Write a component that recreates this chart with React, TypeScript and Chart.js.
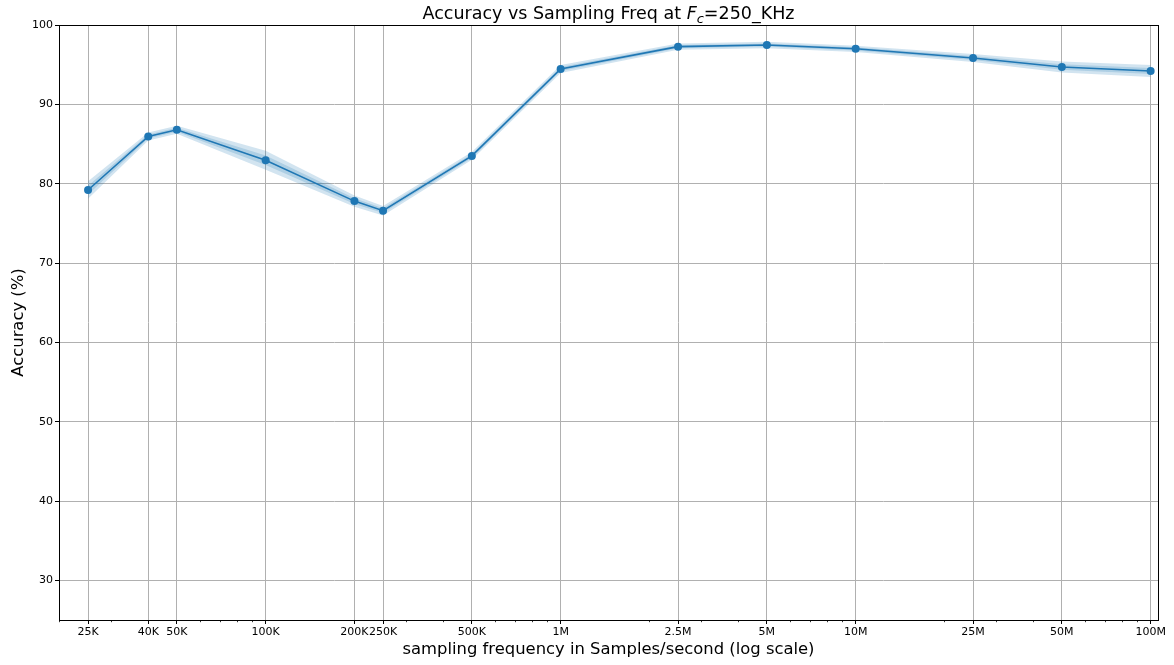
import React, { useEffect, useRef } from 'react';
import { Chart, registerables } from 'chart.js';

Chart.register(...registerables);

// Sampling frequencies (samples/second) and their axis labels
const freqs = [25e3, 40e3, 50e3, 1e5, 2e5, 2.5e5, 5e5, 1e6, 2.5e6, 5e6, 1e7, 2.5e7, 5e7, 1e8];
const tickLabels = ['25K', '40K', '50K', '100K', '200K', '250K', '500K', '1M', '2.5M', '5M', '10M', '25M', '50M', '100M'];

// Mean accuracy (%) per sampling frequency
const accuracy = [79.2, 85.95, 86.8, 82.95, 77.8, 76.6, 83.5, 94.45, 97.27, 97.48, 97.0, 95.85, 94.7, 94.2];

// Outer uncertainty band
const outerHigh = [80.3, 86.45, 87.3, 84.15, 78.5, 77.2, 84.0, 94.95, 97.67, 97.88, 97.4, 96.35, 95.4, 94.95];
const outerLow = [78.1, 85.45, 86.3, 81.75, 77.1, 76.0, 83.0, 93.95, 96.87, 97.08, 96.6, 95.35, 94.0, 93.45];

// Inner uncertainty band
const innerHigh = [79.75, 86.2, 87.05, 83.55, 78.15, 76.9, 83.75, 94.7, 97.47, 97.68, 97.2, 96.1, 95.05, 94.58];
const innerLow = [78.65, 85.7, 86.55, 82.35, 77.45, 76.3, 83.25, 94.2, 97.07, 97.28, 96.8, 95.6, 94.35, 93.82];

// Unlabelled log-scale minor ticks
const minorTicks = [
  2e4, 3e4, 6e4, 7e4, 8e4, 9e4,
  3e5, 4e5, 6e5, 7e5, 8e5, 9e5,
  2e6, 3e6, 4e6, 6e6, 7e6, 8e6, 9e6,
  2e7, 3e7, 4e7, 6e7, 7e7, 8e7, 9e7,
];

const yTicks = [30, 40, 50, 60, 70, 80, 90, 100];

const BLUE = '#1f77b4';
const BAND = 'rgba(31,119,180,0.2)';
const FONT = '"DejaVu Sans", sans-serif';

const toPoints = (ys: number[]) => freqs.map((f, i) => ({ x: f, y: ys[i] }));

const framePlugin = {
  id: 'frameAndMinorTicks',
  afterDraw(chart: any) {
    const { ctx, chartArea } = chart;
    const { left, right, top, bottom } = chartArea;
    const xs = chart.scales.x;
    ctx.save();
    // minor ticks
    ctx.strokeStyle = '#000';
    ctx.lineWidth = 0.8;
    ctx.beginPath();
    for (const v of minorTicks) {
      const px = Math.round(xs.getPixelForValue(v)) + 0.5;
      if (px < left - 1 || px > right + 1) continue;
      ctx.moveTo(px, bottom);
      ctx.lineTo(px, bottom + 2.2);
    }
    ctx.stroke();
    // spines
    ctx.strokeStyle = '#000';
    ctx.lineWidth = 1;
    ctx.strokeRect(Math.round(left) + 0.5, Math.round(top) + 0.5, Math.round(right - left), Math.round(bottom - top));
    ctx.restore();
  },
};

const titlePlugin = {
  id: 'mathTitle',
  afterDraw(chart: any) {
    const { ctx, chartArea } = chart;
    const size = 17.5;
    const parts = [
      { t: 'Accuracy vs Sampling Freq at ', font: `${size}px ${FONT}`, dy: 0 },
      { t: 'F', font: `italic ${size}px ${FONT}`, dy: 0 },
      { t: 'c', font: `italic ${Math.round(size * 0.72)}px ${FONT}`, dy: 3.5 },
      { t: '=250_KHz', font: `${size}px ${FONT}`, dy: 0 },
    ];
    ctx.save();
    let total = 0;
    const widths = parts.map((p) => {
      ctx.font = p.font;
      const w = ctx.measureText(p.t).width;
      total += w;
      return w;
    });
    let x = (chartArea.left + chartArea.right) / 2 - total / 2;
    const baseline = 19;
    ctx.fillStyle = '#000';
    ctx.textBaseline = 'alphabetic';
    ctx.textAlign = 'left';
    parts.forEach((p, i) => {
      ctx.font = p.font;
      ctx.fillText(p.t, x, baseline + p.dy);
      x += widths[i];
    });
    ctx.restore();
  },
};

export default function App() {
  const canvasRef = useRef<HTMLCanvasElement | null>(null);

  useEffect(() => {
    document.body.style.margin = '0';
    const canvas = canvasRef.current;
    if (!canvas) return;

    const chart = new Chart(canvas, {
      type: 'line',
      data: {
        datasets: [
          {
            label: 'accuracy',
            data: toPoints(accuracy),
            borderColor: BLUE,
            backgroundColor: BLUE,
            borderWidth: 1.6,
            pointRadius: 4,
            pointBorderWidth: 0,
            pointBackgroundColor: BLUE,
            fill: false,
            order: 0,
          },
          {
            label: 'outerHigh',
            data: toPoints(outerHigh),
            borderWidth: 0,
            pointRadius: 0,
            fill: false,
            order: 4,
          },
          {
            label: 'outerLow',
            data: toPoints(outerLow),
            borderWidth: 0,
            pointRadius: 0,
            backgroundColor: BAND,
            fill: '-1',
            order: 3,
          },
          {
            label: 'innerHigh',
            data: toPoints(innerHigh),
            borderWidth: 0,
            pointRadius: 0,
            fill: false,
            order: 2,
          },
          {
            label: 'innerLow',
            data: toPoints(innerLow),
            borderWidth: 0,
            pointRadius: 0,
            backgroundColor: BAND,
            fill: '-1',
            order: 1,
          },
        ],
      },
      options: {
        responsive: false,
        animation: false,
        devicePixelRatio: 1,
        layout: { padding: { left: 0, top: 25, right: 16, bottom: 0 } },
        plugins: {
          legend: { display: false },
          tooltip: { enabled: false },
          title: { display: false },
        },
        scales: {
          x: {
            type: 'logarithmic',
            min: 19930,
            max: 1.059e8,
            afterBuildTicks: (scale: any) => {
              scale.ticks = freqs.map((v) => ({ value: v }));
            },
            afterFit: (scale: any) => {
              scale.height = 45;
            },
            ticks: {
              autoSkip: false,
              maxRotation: 0,
              minRotation: 0,
              padding: 2,
              color: '#000',
              font: { family: FONT, size: 11 },
              callback: (_v: any, i: number) => tickLabels[i],
            },
            grid: {
              color: '#b0b0b0',
              lineWidth: 1,
              tickColor: '#000',
              tickLength: 4,
            },
            border: { display: true, color: '#000', width: 1 },
            title: {
              display: true,
              text: 'sampling frequency in Samples/second (log scale)',
              color: '#000',
              font: { family: FONT, size: 16.4 },
              padding: { top: 0, bottom: 5 },
            },
          },
          y: {
            type: 'linear',
            min: 25,
            max: 100,
            afterBuildTicks: (scale: any) => {
              scale.ticks = yTicks.map((v) => ({ value: v }));
            },
            afterFit: (scale: any) => {
              scale.width = 59;
            },
            ticks: {
              padding: 2,
              color: '#000',
              font: { family: FONT, size: 11 },
            },
            grid: {
              color: '#b0b0b0',
              lineWidth: 1,
              tickColor: '#000',
              tickLength: 4,
            },
            border: { display: true, color: '#000', width: 1 },
            title: {
              display: true,
              text: 'Accuracy (%)',
              color: '#000',
              font: { family: FONT, size: 16.4 },
              padding: { top: 9, bottom: 0 },
            },
          },
        },
      } as any,
      plugins: [framePlugin, titlePlugin],
    });

    return () => chart.destroy();
  }, []);

  return (
    <div style={{ position: 'absolute', left: 0, top: 0, width: 1174, height: 665, background: '#fff' }}>
      <canvas ref={canvasRef} width={1174} height={665} />
    </div>
  );
}
